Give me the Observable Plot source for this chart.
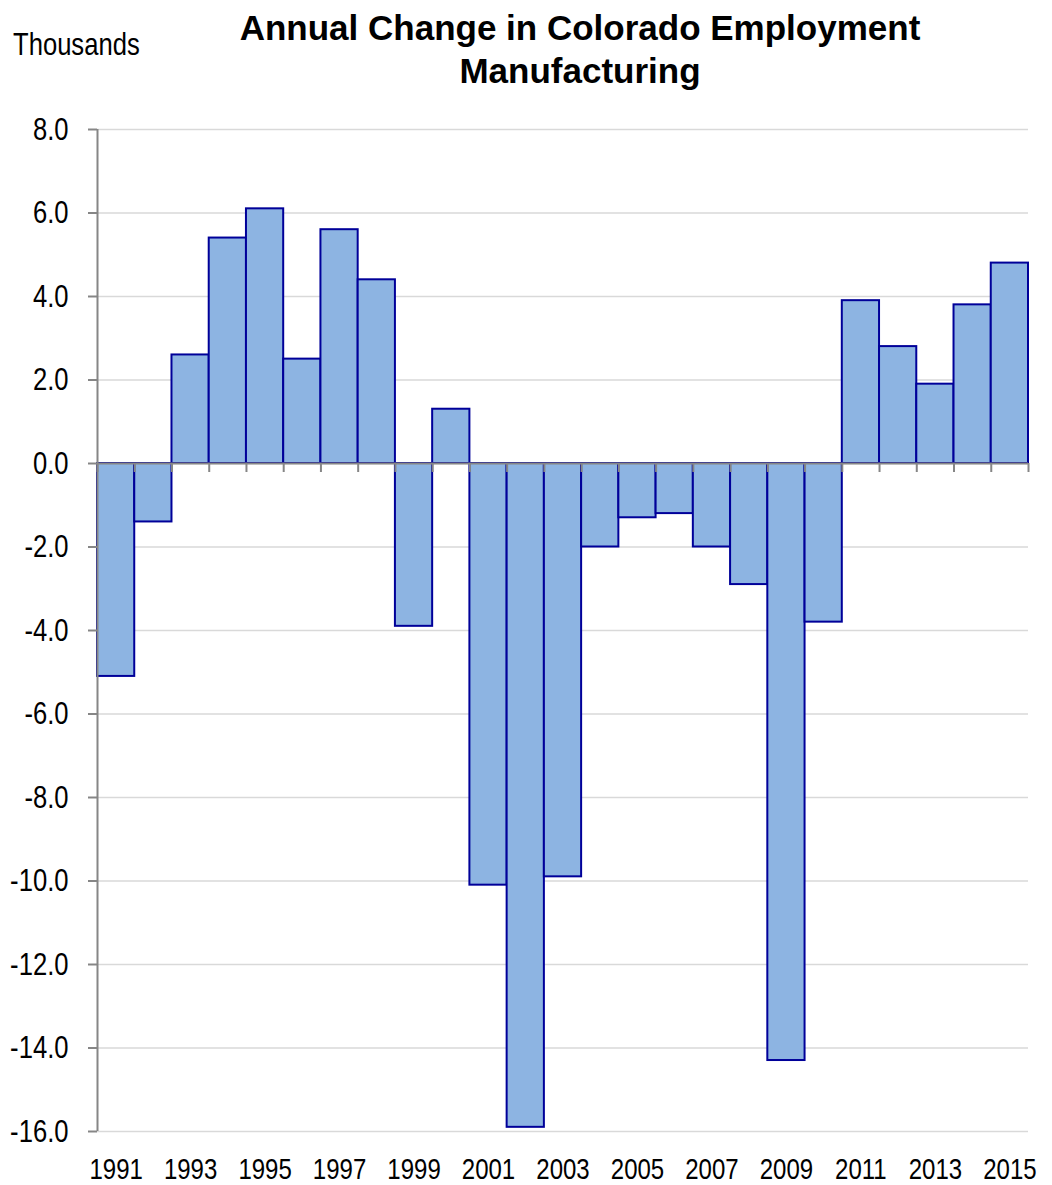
<!DOCTYPE html>
<html>
<head>
<meta charset="utf-8">
<script src="https://cdn.jsdelivr.net/npm/d3@7"></script>
<script src="https://cdn.jsdelivr.net/npm/@observablehq/plot@0.6"></script>
<style>
  body { margin: 0; background: #fff; overflow: hidden; }
  #chart svg { display: block; }
</style>
</head>
<body>
<div id="chart"></div>
<script>
// Annual change in Colorado manufacturing employment, thousands of jobs
const years = [1991, 1992, 1993, 1994, 1995, 1996, 1997, 1998, 1999, 2000,
               2001, 2002, 2003, 2004, 2005, 2006, 2007, 2008, 2009, 2010,
               2011, 2012, 2013, 2014, 2015];
const changes = [-5.1, -1.4, 2.6, 5.4, 6.1, 2.5, 5.6, 4.4, -3.9, 1.3,
                 -10.1, -15.9, -9.9, -2.0, -1.3, -1.2, -2.0, -2.9, -14.3, -3.8,
                 3.9, 2.8, 1.9, 3.8, 4.8];
const yTicks = [-16, -14, -12, -10, -8, -6, -4, -2, 0, 2, 4, 6, 8];
const xLabelYears = [1991, 1993, 1995, 1997, 1999, 2001, 2003, 2005, 2007, 2009, 2011, 2013, 2015];
const titleLines = ["Annual Change in Colorado Employment", "Manufacturing"];
const unitLabel = "Thousands";

const data = years.map((year, i) => ({year, value: changes[i]}));
// Edges between the yearly columns, where the zero line carries small ticks
const edges = [years[0] - 0.5, ...years.map(y => y + 0.5)];

const FONT = "'Liberation Sans', Arial, sans-serif";
const AXIS_GRAY = "#868686";
const NARROW = 0.8; // labels are set in a narrow face

// Shrink text horizontally to mimic a condensed typeface
function condense(nodes, k) {
  nodes.forEach(t => {
    const w = t.getComputedTextLength();
    t.setAttribute("textLength", (w * k).toFixed(1));
    t.setAttribute("lengthAdjust", "spacingAndGlyphs");
  });
}

const root = document.getElementById("chart");

// Heading: title lines and the unit note
const head = d3.create("svg")
  .attr("width", 1052)
  .attr("height", 100)
  .style("font-family", FONT);
head.selectAll("text.title")
  .data(titleLines)
  .join("text")
  .attr("class", "title")
  .attr("x", 580)
  .attr("y", (d, i) => 40 + i * 43)
  .attr("text-anchor", "middle")
  .attr("font-weight", "bold")
  .attr("font-size", 35)
  .attr("fill", "#000")
  .text(d => d);
const unit = head.append("text")
  .attr("x", 13)
  .attr("y", 55)
  .attr("font-size", 32)
  .attr("fill", "#000")
  .text(unitLabel);
root.appendChild(head.node());

const chart = Plot.plot({
  width: 1052,
  height: 1085,
  marginTop: 29,
  marginBottom: 54,
  marginLeft: 97,
  marginRight: 24,
  style: {fontFamily: FONT, fontSize: "32px", color: "#000", background: "#fff"},
  x: {type: "linear", domain: [years[0] - 0.5, years[years.length - 1] + 0.5], label: null},
  y: {domain: [-16, 8], label: null},
  marks: [
    Plot.ruleY(yTicks, {stroke: "#d9d9d9", strokeWidth: 1.5}),
    Plot.rectY(data, {
      x1: d => d.year - 0.5,
      x2: d => d.year + 0.5,
      y: "value",
      fill: "#8db4e2",
      stroke: "#000099",
      strokeWidth: 2
    }),
    Plot.ruleX([years[0] - 0.5], {stroke: AXIS_GRAY, strokeWidth: 2}),
    Plot.ruleY([0], {stroke: AXIS_GRAY, strokeWidth: 2}),
    Plot.ruleX(edges, {y1: 0, y2: 0, insetBottom: -9, stroke: AXIS_GRAY, strokeWidth: 2}),
    Plot.axisY({
      ticks: yTicks,
      tickFormat: d => d.toFixed(1),
      tickSize: 9,
      tickPadding: 20,
      stroke: AXIS_GRAY,
      strokeWidth: 2,
      fill: "#000"
    }),
    Plot.axisX({
      ticks: xLabelYears,
      tickFormat: d => String(d),
      tickSize: 0,
      tickPadding: 26,
      fontSize: 30,
      fill: "#000"
    })
  ]
});
root.appendChild(chart);

condense([unit.node()], NARROW);
condense(Array.from(chart.querySelectorAll("text")), NARROW);
</script>
</body>
</html>
